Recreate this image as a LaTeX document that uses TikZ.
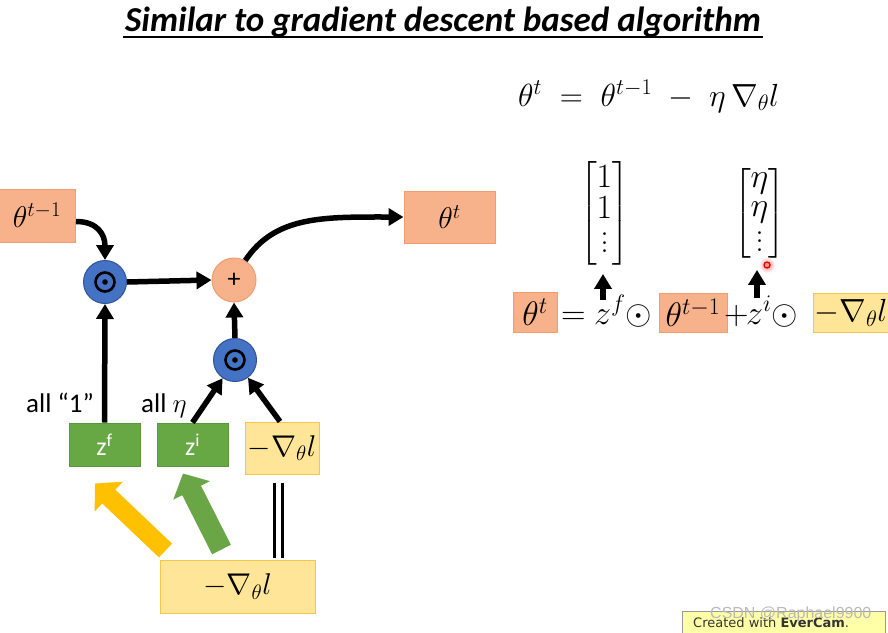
\RequirePackage{fix-cm}
\documentclass[tikz,border=0pt]{standalone}
\usepackage{amsmath}
\usepackage[no-math]{fontspec}
\setmainfont{Carlito}
\newfontfamily\wmfont{Liberation Sans}
\newfontfamily\evfont{DejaVu Sans}
\newfontfamily\lmfont{Latin Modern Roman}
\usetikzlibrary{arrows.meta,calc}
\definecolor{orfill}{HTML}{F7B28C}
\definecolor{ordraw}{HTML}{EE9C70}
\definecolor{bluefill}{HTML}{4472C4}
\definecolor{bluedraw}{HTML}{2F5597}
\definecolor{grfill}{HTML}{68A844}
\definecolor{grdraw}{HTML}{5A963A}
\definecolor{yefill}{HTML}{FFE597}
\definecolor{yedraw}{HTML}{F7C54A}
\definecolor{yearrow}{HTML}{FFC000}
\definecolor{grarrow}{HTML}{6AA546}
\definecolor{evfill}{HTML}{FFFFA8}
\newcommand\myvdots{\vbox{\baselineskip=8.5pt\lineskiplimit=0pt\kern6pt\hbox{\lmfont .}\hbox{\lmfont .}\hbox{\lmfont .}}}
\begin{document}
\begin{tikzpicture}[x=1pt,y=-1pt,
  mfont/.style={font=\fontsize{30}{30}\selectfont},
  bfont/.style={font=\fontsize{34}{34}\selectfont},
  obox/.style={rectangle, draw=ordraw, fill=orfill, line width=1pt, inner sep=0pt, mfont},
  ybox/.style={rectangle, draw=yedraw, fill=yefill, line width=1pt, inner sep=0pt, mfont},
  gbox/.style={rectangle, draw=grdraw, fill=grfill, line width=1pt, inner sep=0pt, text=white, font=\fontsize{26}{26}\selectfont},
  odotc/.style={circle, draw=bluedraw, fill=bluefill, line width=1pt, minimum size=43pt, inner sep=0pt},
  plusc/.style={circle, draw=ordraw, fill=orfill, line width=1pt, minimum size=44pt, inner sep=0pt, font=\fontsize{26}{26}\selectfont},
  arr/.style={line width=5.5pt, -{Triangle[length=15pt,width=17pt]}},
  dline/.style={line width=3pt},
  blockarr/.style={line width=19pt, -{Triangle[length=19pt,width=40pt]}},
  lbl/.style={font=\fontsize{27}{27}\selectfont, inner sep=0pt},
  eqtext/.style={bfont, inner sep=0pt},
]
\clip (0,0) rectangle (888,632);
\fill[white] (0,0) rectangle (888,632);

% title
\node[font=\fontsize{35}{40}\selectfont\bfseries\itshape, anchor=base, inner sep=0pt] (title) at (443,31) {Similar to gradient descent based algorithm};
\draw[line width=1.8pt] ($(title.base west)+(-2,6)$) -- ($(title.base east)+(2,6)$);

% top equation
\node[font=\fontsize{32}{32}\selectfont, inner sep=0pt, anchor=base west] (topeq) at (518,106) {$\theta^t \;=\; \theta^{t-1} \;-\; \eta\,\nabla_{\theta} l$};

% left diagram
\node[obox, minimum width=77pt, minimum height=53pt] (thprev) at (37,215.5) {$\theta^{t-1}$};
\node[obox, minimum width=91pt, minimum height=52pt] (thnext) at (449.5,217) {$\theta^{t}$};
\node[odotc] (odot1) at (105,282) {};
\node[plusc] (plus) at (234,280) {+};
\node[odotc] (odot2) at (235,360) {};
\foreach \c in {odot1,odot2}{
  \draw[line width=2.6pt] (\c) circle (9.5);
  \fill (\c) circle (2.8);
}
\node[gbox, minimum width=71pt, minimum height=43pt] (zf) at (104.5,444.5) {z\textsuperscript{f}};
\node[gbox, minimum width=71pt, minimum height=43pt] (zi) at (192.5,444.5) {z\textsuperscript{i}};
\node[ybox, minimum width=74pt, minimum height=52pt] (gsmall) at (282,448) {$-\nabla_{\theta} l$};
\node[ybox, minimum width=155pt, minimum height=53pt] (gbig) at (237.5,586.5) {$-\nabla_{\theta} l$};

\node[lbl, anchor=base west] (lbl1) at (26,412) {all “1”};
\node[lbl, anchor=base west] (lbl2) at (141,412) {all $\eta$};

\draw[arr] ($(thprev.east)+(0,6)$) .. controls +(22,0) and +(0,-25) .. (odot1.north);
\draw[arr] (odot1.east) -- (plus.west);
\draw[arr] (plus.60) .. controls +(30,-45) and +(-80,0) .. (thnext.west);
\draw[arr] (zf.north) -- (odot1.south);
\draw[arr] (odot2.north) -- (plus.south);
\draw[arr] (zi.north) -- (odot2);
\draw[arr] ($(gsmall.north)+(-2,0)$) -- (odot2);

\draw[dline] ($(gsmall.south)+(-8,8)$) -- ($(gsmall.south)+(-8,83)$);
\draw[dline] ($(gsmall.south)+(0,8)$) -- ($(gsmall.south)+(0,83)$);

\draw[blockarr, yearrow] ($(gbig.north west)+(6,-9)$) -- ($(zf.south)+(-9.5,17)$);
\draw[blockarr, grarrow, line width=21pt] ($(gbig.north west)+(62,-10)$) -- ($(zi.south)+(-9.5,7)$);

% right equation
\node[obox, bfont, minimum width=44pt, minimum height=40pt] (rth) at (535,312) {$\theta^{t}$};
\node[eqtext, anchor=base west] (req) at (561,324) {$=$};
\node[eqtext, anchor=base west] (rzf) at (594,324) {$z^f$};
\node[eqtext, anchor=base west] (rod1) at (625,324) {$\odot$};
\node[obox, bfont, minimum width=68pt, minimum height=39pt] (rprev) at (693,313) {$\theta^{t-1}$};
\node[eqtext, anchor=base west] (rplus) at (724,324) {$+$};
\node[eqtext, anchor=base west] (rzi) at (746,324) {$z^i$};
\node[eqtext, anchor=base west] (rod2) at (771,324) {$\odot$};
\node[ybox, font=\fontsize{32}{32}\selectfont, minimum width=76pt, minimum height=39pt] (rgrad) at (851,312.5) {$-\nabla_{\theta} l$};

\node[inner sep=0pt, font=\fontsize{34}{29}\selectfont] (m1) at (604.5,213.5) {$\arraycolsep=1pt\begin{bmatrix}1\\1\\\myvdots\end{bmatrix}$};
\node[inner sep=0pt, font=\fontsize{34}{29}\selectfont] (m2) at (759.5,213.5) {$\arraycolsep=1pt\begin{bmatrix}\eta\\\eta\\\myvdots\end{bmatrix}$};
\coordinate (a1) at (603,300);
\coordinate (a2) at (757,298);
\draw[arr] (a1) -- ($(a1 |- m1.south)+(0,8)$);
\draw[arr] (a2) -- ($(a2 |- m2.south)+(0,10)$);

% laser pointer dot
\shade[inner color=red, outer color=white, opacity=0.5] (767,265) circle (8);
\draw[red!90!black, line width=1.3pt, fill=white!60!red] (767,265) circle (3);

% footer
\node[draw=gray!80, fill=evfill, line width=0.8pt, anchor=north west, minimum width=203pt, minimum height=26pt] (ever) at (682,611) {};
\node[font=\evfont\fontsize{13}{13}\selectfont, text=black!80, anchor=base west, inner sep=0pt] (evtext) at (693,627) {Created with \textbf{EverCam}.};
\node[font=\wmfont\fontsize{16}{16}\selectfont, text=gray!55, anchor=base west, inner sep=0pt] (wm) at (710,618) {CSDN @Raphael9900};
\end{tikzpicture}
\end{document}
